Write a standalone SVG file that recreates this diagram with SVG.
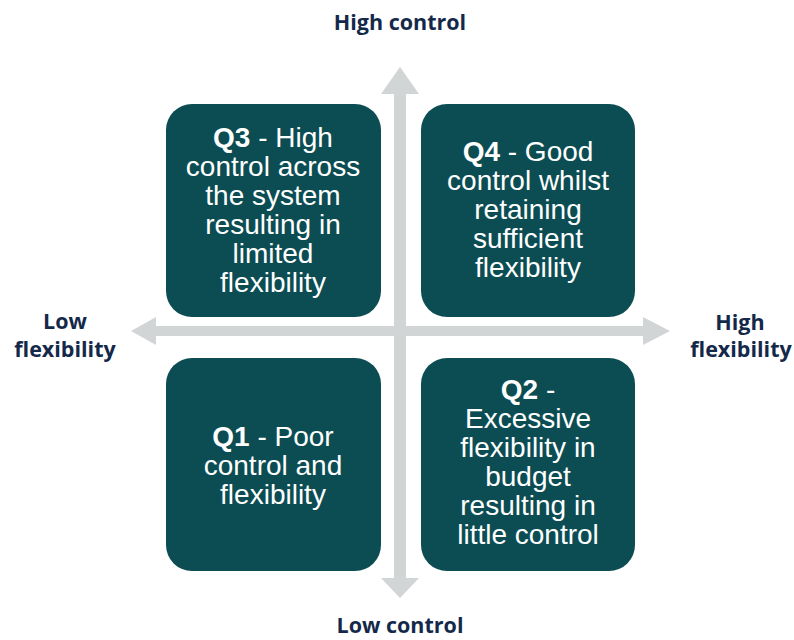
<svg xmlns="http://www.w3.org/2000/svg" width="794" height="640" viewBox="0 0 794 640">
<style>
.box{fill:#0b4d53}
.bt{font-family:"Liberation Sans",Arial,sans-serif;font-size:28px;fill:#ffffff;text-anchor:middle}
.bt .b{font-weight:bold}
.ax{font-family:"Open Sans","DejaVu Sans",sans-serif;font-weight:bold;font-size:21.5px;fill:#14294a;text-anchor:middle}
.arr{fill:#d2d5d6}
</style>
<rect width="794" height="640" fill="#ffffff"/>
<g id="axes">
<polygon class="arr" points="400,67 419,94 406,94 406,578 419,578 400,598 381,578 394,578 394,94 381,94"/>
<polygon class="arr" points="131,331 156,317 156,326 643,326 643,317 670,331 643,345 643,336 156,336 156,345"/>
</g>
<g id="q3">
<rect class="box" x="166" y="104" width="215" height="213" rx="26"/>
<text class="bt"><tspan x="273" y="147"><tspan class="b">Q3</tspan> - High</tspan><tspan x="273" y="176">control across</tspan><tspan x="273" y="205">the system</tspan><tspan x="273" y="234">resulting in</tspan><tspan x="273" y="263">limited</tspan><tspan x="273" y="292">flexibility</tspan></text>
</g>
<g id="q4">
<rect class="box" x="421" y="104" width="214" height="213" rx="26"/>
<text class="bt"><tspan x="528" y="161"><tspan class="b">Q4</tspan> - Good</tspan><tspan x="528" y="190">control whilst</tspan><tspan x="528" y="219">retaining</tspan><tspan x="528" y="248">sufficient</tspan><tspan x="528" y="277">flexibility</tspan></text>
</g>
<g id="q1">
<rect class="box" x="166" y="358" width="215" height="213" rx="26"/>
<text class="bt"><tspan x="273" y="446"><tspan class="b">Q1</tspan> - Poor</tspan><tspan x="273" y="475">control and</tspan><tspan x="273" y="504">flexibility</tspan></text>
</g>
<g id="q2">
<rect class="box" x="421" y="358" width="214" height="213" rx="26"/>
<text class="bt"><tspan x="528" y="399"><tspan class="b">Q2</tspan> -</tspan><tspan x="528" y="428">Excessive</tspan><tspan x="528" y="457">flexibility in</tspan><tspan x="528" y="486">budget</tspan><tspan x="528" y="515">resulting in</tspan><tspan x="528" y="544">little control</tspan></text>
</g>
<g id="labels">
<text class="ax" x="400" y="30">High control</text>
<text class="ax" x="400" y="633">Low control</text>
<text class="ax"><tspan x="65" y="329">Low</tspan><tspan x="65" y="357">flexibility</tspan></text>
<text class="ax"><tspan x="740" y="330">High</tspan><tspan x="741" y="357">flexibility</tspan></text>
</g>
</svg>
